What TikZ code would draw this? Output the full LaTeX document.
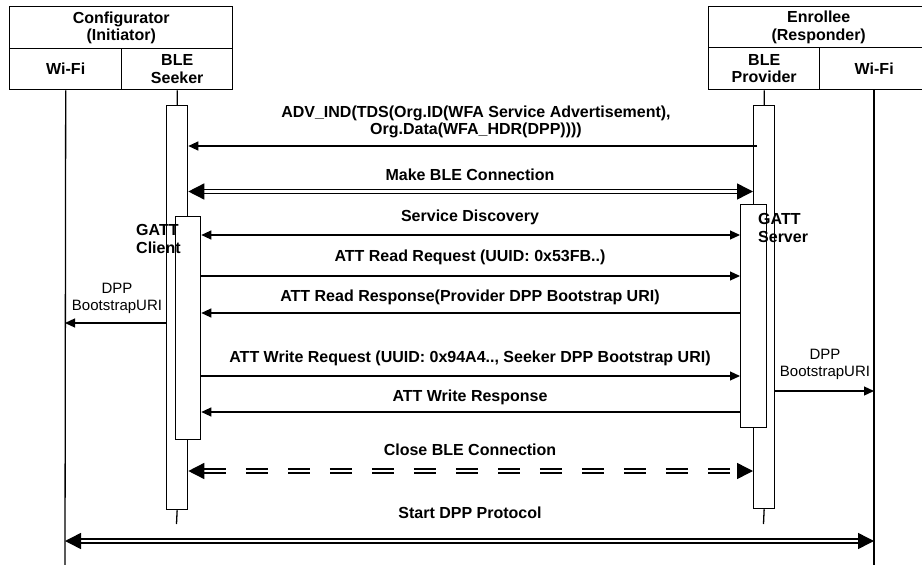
\documentclass[tikz,border=0pt]{standalone}
\usepackage{fontspec}
\setmainfont{Liberation Sans}
\usetikzlibrary{arrows.meta}
\begin{document}
\begin{tikzpicture}[x=1pt,y=-1pt,
  every node/.style={inner sep=0pt, align=center,
    font=\fontsize{16}{17.5}\selectfont\bfseries},
  cell/.style={draw, line width=1.4pt, anchor=north west},
  act/.style={draw, fill=white, line width=1.3pt, anchor=north west, minimum width=#1},
  life/.style={line width=1.3pt},
  msg/.style={line width=1.2pt, -{Triangle[length=10pt,width=9pt]}},
  bimsg/.style={line width=1.2pt, {Triangle[length=10pt,width=9pt]}-{Triangle[length=10pt,width=9pt]}},
  twin/.style={double, double distance=2.2pt, line width=1.5pt,
    {Triangle[length=16pt,width=16pt]}-{Triangle[length=16pt,width=16pt]}},
  dtwin/.style={twin, dash pattern=on 22pt off 20pt},
  side/.style={font=\fontsize{15}{17}\selectfont\mdseries},
  gatt/.style={align=left, anchor=west}
]
\useasboundingbox (0,0) rectangle (922,565);

% header of the initiator
\node[cell, minimum width=223pt, minimum height=42pt] (cfg) at (9,6) {Configurator\\(Initiator)};
\node[cell, minimum width=112pt, minimum height=41pt] (cfgwifi) at (9,48) {Wi-Fi};
\node[cell, minimum width=111pt, minimum height=41pt] (cfgble) at (121,48) {BLE\\Seeker};

% header of the responder
\node[cell, minimum width=220pt, minimum height=41pt] (enr) at (708,6) {Enrollee\\(Responder)};
\node[cell, minimum width=111pt, minimum height=42pt] (enble) at (708,47) {BLE\\Provider};
\node[cell, minimum width=109pt, minimum height=42pt] (enwifi) at (819,47) {Wi-Fi};

% lifelines
\coordinate (wLbot) at (65,565);
\coordinate (wRtop) at (874,89);
\coordinate (wRbot) at (874,565);
\draw[life] (cfgwifi.south) -- (wLbot);
\draw[life] (wRtop) -- (wRbot);

% activation bars
\node[act=21pt, minimum height=404pt] (actL) at (166,105) {};
\node[act=21pt, minimum height=403pt] (actR) at (753,105) {};
\node[act=25pt, minimum height=223pt] (gattC) at (175,216) {};
\node[act=26pt, minimum height=223pt] (gattS) at (740,204) {};
\coordinate (stubL) at (176.5,524);
\coordinate (stubR) at (763.5,524);
\draw[life] (cfgble.south) -- (actL.north);
\draw[life] (enble.south) -- (actR.north);
\draw[life] (actL.south) -- (stubL);
\draw[life] (actR.south) -- (stubR);

% message levels
\coordinate (advS) at (757,146);
\coordinate (yMk) at (0,191.5);
\coordinate (ySd) at (0,235);
\coordinate (yRq) at (0,276);
\coordinate (yRs) at (0,313);
\coordinate (yBl) at (0,323);
\coordinate (yWq) at (0,376);
\coordinate (yBr) at (0,391);
\coordinate (yWs) at (0,412);
\coordinate (yCl) at (0,471);
\coordinate (ySt) at (0,541);

% messages
\draw[msg] (advS) -- (advS -| actL.east);
\draw[twin] (actL.east |- yMk) -- (actR.west |- yMk);
\draw[bimsg] (gattC.east |- ySd) -- (gattS.west |- ySd);
\draw[msg] (gattC.east |- yRq) -- (gattS.west |- yRq);
\draw[msg] (gattS.west |- yRs) -- (gattC.east |- yRs);
\draw[msg] (actL.west |- yBl) -- (wLbot |- yBl);
\draw[msg] (gattC.east |- yWq) -- (gattS.west |- yWq);
\draw[msg] (actR.east |- yBr) -- (wRtop |- yBr);
\draw[msg] (gattS.west |- yWs) -- (gattC.east |- yWs);
\draw[dtwin] (actL.east |- yCl) -- (actR.west |- yCl);
\draw[twin] (wLbot |- ySt) -- (wRtop |- ySt);

% labels
\node (lAdv) at (476,122) {ADV\_IND(TDS(Org.ID(WFA Service Advertisement),\\Org.Data(WFA\_HDR(DPP))))};
\node (lMk) at (470,175) {Make BLE Connection};
\node (lSd) at (470,217) {Service Discovery};
\node (lRq) at (470,257) {ATT Read Request (UUID: 0x53FB..)};
\node (lRs) at (470,297) {ATT Read Response(Provider DPP Bootstrap URI)};
\node (lWq) at (470,358) {ATT Write Request (UUID: 0x94A4.., Seeker DPP Bootstrap URI)};
\node (lWs) at (470,397) {ATT Write Response};
\node (lCl) at (470,450) {Close BLE Connection};
\node (lSt) at (470,513) {Start DPP Protocol};
\node[side] (lBl) at (117,298) {DPP\\BootstrapURI};
\node[side] (lBr) at (825,364) {DPP\\BootstrapURI};
\node[gatt] (lGc) at (136,239) {GATT\\Client};
\node[gatt] (lGs) at (758,228) {GATT\\Server};
\end{tikzpicture}
\end{document}
